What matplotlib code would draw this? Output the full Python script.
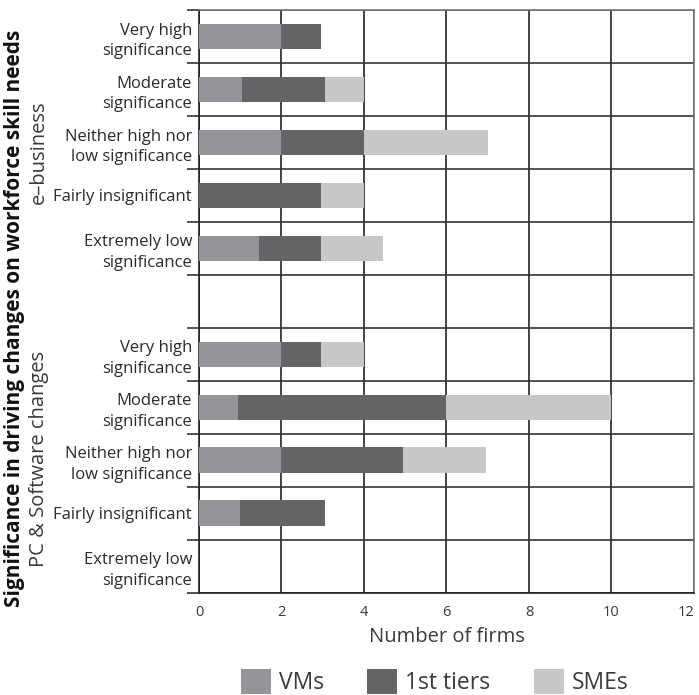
import numpy as np
import matplotlib.pyplot as plt
from matplotlib.patches import Patch

plt.rcParams["font.family"] = ["Open Sans", "DejaVu Sans"]

# ── data ─────────────────────────────────────────────────────────────────────
categories = ["Very high\nsignificance", "Moderate\nsignificance",
              "Neither high nor\nlow significance", "Fairly insignificant",
              "Extremely low\nsignificance"]
groups = ["e\u2013business", "PC & Software changes"]

# e-business
eb_vms   = [2.0, 1.05, 2.0, 0.0, 1.45]
eb_tier1 = [0.95, 2.0, 2.0, 2.95, 1.5]
eb_smes  = [0.0, 0.95, 3.0, 1.05, 1.5]
# PC & Software changes
pc_vms   = [2.0, 0.95, 2.0, 1.0, 0.0]
pc_tier1 = [0.95, 5.05, 2.95, 2.05, 0.0]
pc_smes  = [1.05, 4.0, 2.0, 0.0, 0.0]

series = ["VMs", "1st tiers", "SMEs"]
colors = ["#949598", "#636466", "#c6c7c9"]
x_ticks = [0, 2, 4, 6, 8, 10, 12]

TXT = "#3a3a3a"

# ── layout ───────────────────────────────────────────────────────────────────
fig = plt.figure(figsize=(6.99, 6.95), dpi=100, facecolor="white")
ax = fig.add_axes([0.2847, 0.1468, 0.9928 - 0.2847, 0.9856 - 0.1468])

# rows 0-4 e-business, row 5 blank, rows 6-10 PC & Software
ypos = np.r_[np.arange(5), np.arange(6, 11)]
vms = np.array(eb_vms + pc_vms)
tier1 = np.array(eb_tier1 + pc_tier1)
smes = np.array(eb_smes + pc_smes)

h = 0.49
ax.barh(ypos, vms, height=h, color=colors[0], zorder=3)
ax.barh(ypos, tier1, left=vms, height=h, color=colors[1], zorder=3)
ax.barh(ypos, smes, left=vms + tier1, height=h, color=colors[2], zorder=3)

ax.set_xlim(0, 12)
ax.set_ylim(10.5, -0.5)
ax.set_xticks(x_ticks)
ax.set_xticklabels([str(t) for t in x_ticks], fontsize=10.5, color=TXT)
ax.get_xticklabels()[-1].set_horizontalalignment("right")
ax.tick_params(axis="x", length=0, pad=9)

ax.set_yticks(ypos)
ax.set_yticklabels(categories + categories, fontsize=12, color="#2a2a2a",
                   linespacing=1.4)
ax.tick_params(axis="y", which="major", length=0, pad=5)
ax.set_yticks(np.arange(-0.5, 11, 1.0), minor=True)
ax.tick_params(axis="y", which="minor", length=9, width=1.2, color="#333333")

ax.grid(axis="x", which="major", color="#111111", linewidth=1.1, zorder=1)
ax.grid(axis="y", which="minor", color="#333333", linewidth=1.2, zorder=1)
for sp in ["top", "right"]:
    ax.spines[sp].set_color("#777777")
    ax.spines[sp].set_linewidth(1.2)
for sp in ["left", "bottom"]:
    ax.spines[sp].set_color("#222222")
    ax.spines[sp].set_linewidth(1.2)

ax.set_xlabel("Number of firms", fontsize=14.5, color=TXT, labelpad=5)

fig.text(15 / 699, 1 - 318 / 695,
         "Significance in driving changes on workforce skill needs",
         rotation=90, ha="center", va="center", fontsize=15,
         fontweight="bold", color="#111111")
fig.text(39 / 699, 1 - 152 / 695, groups[0], rotation=90, ha="center",
         va="center", fontsize=14.5, color=TXT)
fig.text(39 / 699, 1 - 459 / 695, groups[1], rotation=90, ha="center",
         va="center", fontsize=14.5, color=TXT)

handles = [Patch(facecolor=c, edgecolor="none", label=s)
           for c, s in zip(colors, series)]
leg = fig.legend(handles=handles, loc="center",
                 bbox_to_anchor=(0.622, 1 - 682 / 695),
                 ncol=3, frameon=False, handlelength=1.3,
                 handleheight=1.3, handletextpad=0.35, columnspacing=1.9,
                 labelcolor=TXT, prop={"size": 16.5})

fig.savefig("out.png", dpi=100, facecolor="white")
